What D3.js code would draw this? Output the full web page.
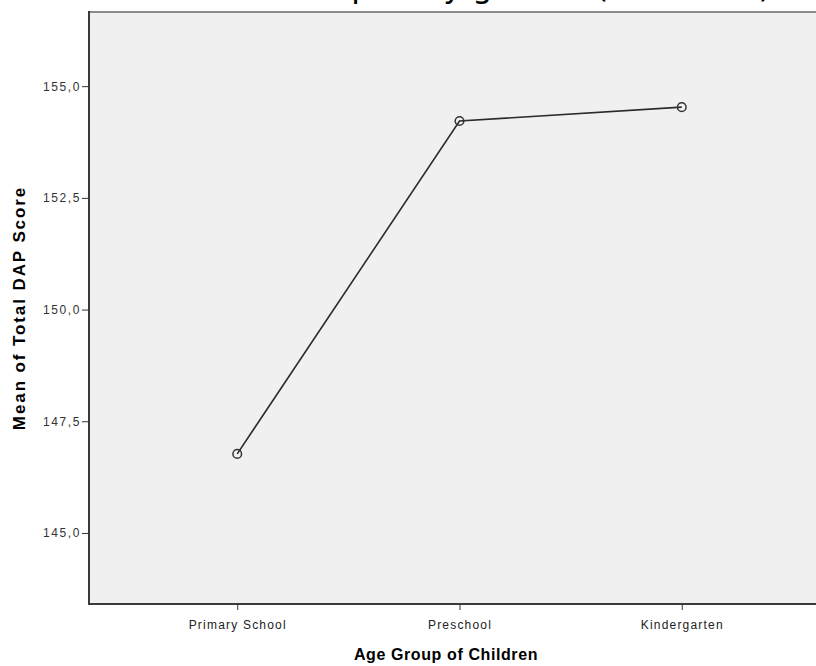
<!DOCTYPE html>
<html>
<head>
<meta charset="utf-8">
<script src="https://cdn.jsdelivr.net/npm/d3@7"></script>
<style>
  html, body { margin: 0; padding: 0; background: #fff; overflow: hidden; }
  svg { display: block; }
</style>
</head>
<body>
<svg id="chart" width="816" height="666"></svg>
<script>
// Mean DAP score by age group
const categories = ["Primary School", "Preschool", "Kindergarten"];
const meanScores = [146.77, 154.22, 154.53];
const yTicks = [145.0, 147.5, 150.0, 152.5, 155.0];
const yDomain = [143.41, 156.66];
const titleText = "Means plot by gender (Total DAP)";
const xTitle = "Age Group of Children";
const yTitle = "Mean of Total DAP Score";

const svg = d3.select("#chart");
const plot = { left: 89, top: 12, right: 830, bottom: 604 };

const x = d3.scalePoint()
  .domain(categories)
  .range([plot.left, plot.right])
  .padding(0.667);

const y = d3.scaleLinear()
  .domain(yDomain)
  .range([plot.bottom, plot.top]);

const fmt = v => v.toFixed(1).replace(".", ",");
const labelFont = "Liberation Sans, Arial, sans-serif";

// title (runs off the top edge of the page)
svg.append("text")
  .attr("x", 771)
  .attr("y", -3.5)
  .attr("text-anchor", "end")
  .attr("font-family", "DejaVu Sans, sans-serif")
  .attr("font-size", 32)
  .attr("fill", "#000")
  .text(titleText);

// plot background
svg.append("rect")
  .attr("x", plot.left)
  .attr("y", plot.top)
  .attr("width", plot.right - plot.left)
  .attr("height", plot.bottom - plot.top)
  .attr("fill", "#f0f0f0");

// frame: gray top, dark left and bottom
svg.append("line")
  .attr("x1", plot.left).attr("x2", plot.right)
  .attr("y1", plot.top).attr("y2", plot.top)
  .attr("stroke", "#8c8c8c").attr("stroke-width", 2);
svg.append("line")
  .attr("x1", plot.left).attr("x2", plot.left)
  .attr("y1", plot.top - 1).attr("y2", plot.bottom + 1)
  .attr("stroke", "#3a3a3a").attr("stroke-width", 2);
svg.append("line")
  .attr("x1", plot.left - 1).attr("x2", plot.right)
  .attr("y1", plot.bottom).attr("y2", plot.bottom)
  .attr("stroke", "#3a3a3a").attr("stroke-width", 2);

// y axis
const yAxis = d3.axisLeft(y)
  .tickValues(yTicks)
  .tickFormat(fmt)
  .tickSize(6)
  .tickPadding(1);
const gy = svg.append("g")
  .attr("transform", `translate(${plot.left - 1},0)`)
  .call(yAxis);
gy.select(".domain").remove();
gy.selectAll(".tick line").attr("stroke", "#333");
gy.selectAll(".tick text")
  .attr("font-family", labelFont)
  .attr("font-size", 12)
  .attr("letter-spacing", 1.6)
  .attr("fill", "#333");

// x axis
const xAxis = d3.axisBottom(x)
  .tickSize(5)
  .tickPadding(10);
const gx = svg.append("g")
  .attr("transform", `translate(0,${plot.bottom + 1})`)
  .call(xAxis);
gx.select(".domain").remove();
gx.selectAll(".tick line").attr("stroke", "#333");
gx.selectAll(".tick text")
  .attr("font-family", labelFont)
  .attr("font-size", 12)
  .attr("letter-spacing", 1.2)
  .attr("fill", "#222");

// axis titles
svg.append("text")
  .attr("x", 446)
  .attr("y", 660)
  .attr("text-anchor", "middle")
  .attr("font-family", labelFont)
  .attr("font-size", 16)
  .attr("font-weight", "bold")
  .attr("letter-spacing", 0.6)
  .attr("fill", "#000")
  .text(xTitle);

svg.append("text")
  .attr("transform", `translate(25,${(plot.top + plot.bottom) / 2}) rotate(-90)`)
  .attr("text-anchor", "middle")
  .attr("font-family", labelFont)
  .attr("font-size", 17)
  .attr("font-weight", "bold")
  .attr("letter-spacing", 1.9)
  .attr("fill", "#000")
  .text(yTitle);

// mean line and markers
const pts = categories.map((c, i) => ({ c, v: meanScores[i] }));
const line = d3.line().x(d => x(d.c)).y(d => y(d.v));

svg.append("path")
  .datum(pts)
  .attr("d", line)
  .attr("fill", "none")
  .attr("stroke", "#2b2b2b")
  .attr("stroke-width", 1.6);

svg.selectAll("circle.pt")
  .data(pts)
  .join("circle")
  .attr("class", "pt")
  .attr("cx", d => x(d.c))
  .attr("cy", d => y(d.v))
  .attr("r", 4.3)
  .attr("fill", "none")
  .attr("stroke", "#333")
  .attr("stroke-width", 1.5);
</script>
</body>
</html>
